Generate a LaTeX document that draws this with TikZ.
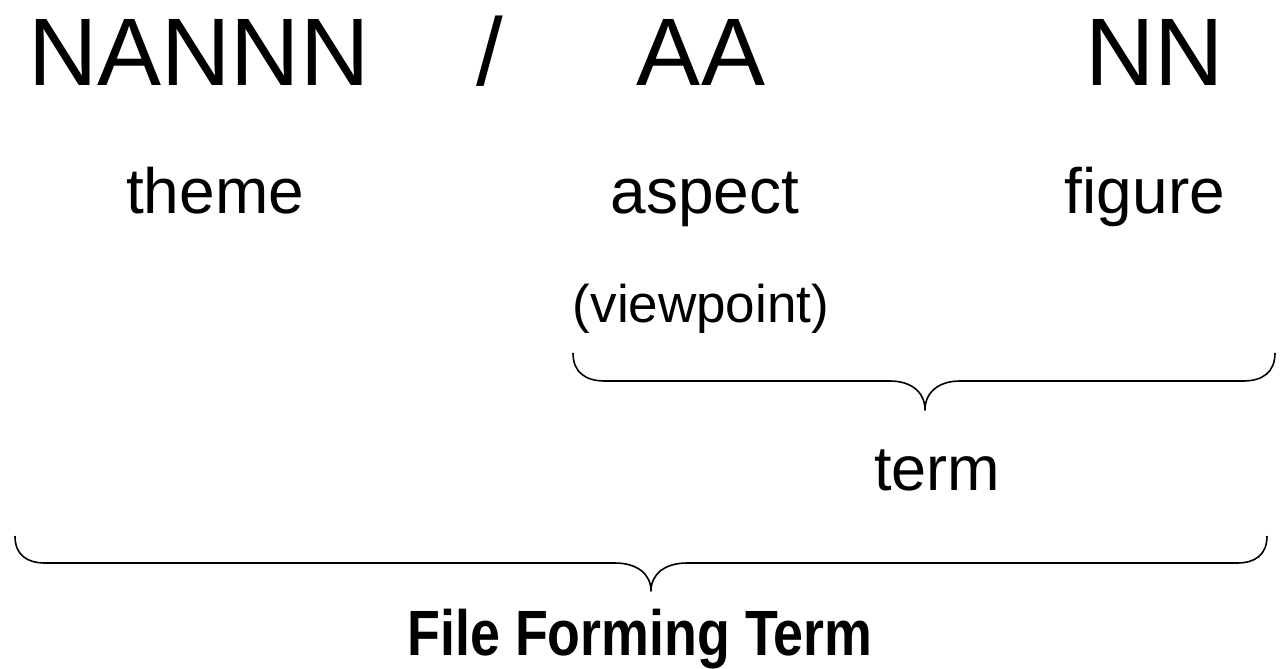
\documentclass[tikz,border=0pt]{standalone}
\usepackage{fontspec}
\setmainfont{Liberation Sans}
\usepackage{graphicx}
\usetikzlibrary{positioning}

\begin{document}
\begin{tikzpicture}[
  x=0.5pt, y=-0.5pt,
  code/.style={inner sep=0pt, anchor=base, font=\fontsize{48}{58}\selectfont},
  part/.style={inner sep=0pt, anchor=base, font=\fontsize{32}{38}\selectfont},
  note/.style={inner sep=0pt, anchor=base, font=\fontsize{26.5}{32}\selectfont},
  title/.style={inner sep=0pt, anchor=base, font=\fontsize{32}{38}\selectfont\bfseries},
  brace/.style={line width=0.8pt, line join=round}
]
\useasboundingbox (0,0) rectangle (1282,669);

% notation line
\node[code] (themecode) at (199,85) {NANNN};
\node[code] (slash) at (490,85) {/};
\node[code] (aspectcode) at (701,85) {AA};
\node[code] (figurecode) at (1155,85) {NN};

% meaning of each part
\node[part] (theme) at (215,213) {theme};
\node[part] (aspect) at (705,213) {aspect};
\node[part] (figure) at (1145,213) {figure};
\node[note] (viewpoint) at (701,322) {(viewpoint)};

% braces
\draw[brace] (573,353) .. controls (573,372) and (585,381) .. (605,381) -- (890,381)
  .. controls (911,381) and (925,392) .. (925,410)
  .. controls (925,392) and (939,381) .. (960,381) -- (1243,381)
  .. controls (1263,381) and (1275,372) .. (1275,353);
\node[part, font=\fontsize{31.5}{38}\selectfont] (term) at (937,490) {term};

\draw[brace] (15,536) .. controls (15,555) and (27,563) .. (45,563) -- (615,563)
  .. controls (637,563) and (651,574) .. (651,591)
  .. controls (651,574) and (665,563) .. (687,563) -- (1237,563)
  .. controls (1255,563) and (1267,555) .. (1267,536);
\node[title] (fileterm) at (640,655) {\scalebox{0.84}[1]{File Forming Term}};
\end{tikzpicture}
\end{document}
